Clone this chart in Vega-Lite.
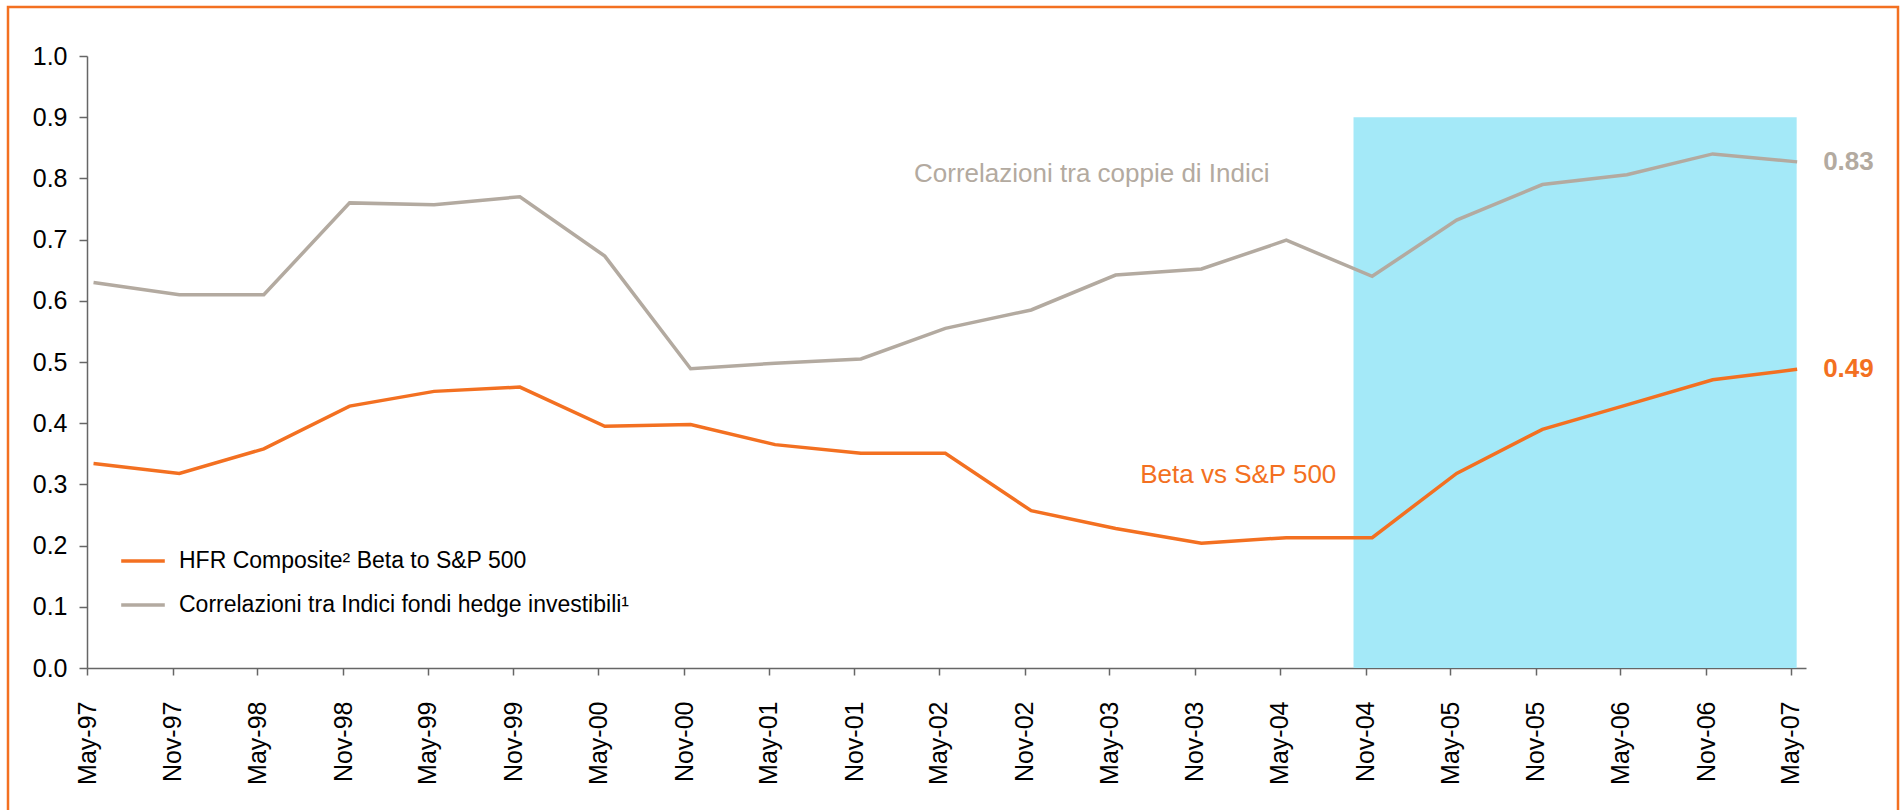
{
  "$schema": "https://vega.github.io/schema/vega-lite/v6.json",
  "width": 1890,
  "height": 808,
  "autosize": {"type": "none"},
  "padding": {"left": 8, "top": 7, "right": 3, "bottom": -5},
  "background": "white",
  "config": {
    "view": {"stroke": "#F37021", "strokeWidth": 2.5},
    "font": "Liberation Sans"
  },
  "datasets": {
    "highlight": [
      {"start": "2004-10-06", "end": "2007-05-14", "low": 0, "high": 0.9}
    ],
    "series": [
      {"date": "1997-05-15", "series": "HFR Composite² Beta to S&P 500", "value": 0.334},
      {"date": "1997-11-15", "series": "HFR Composite² Beta to S&P 500", "value": 0.318},
      {"date": "1998-05-15", "series": "HFR Composite² Beta to S&P 500", "value": 0.358},
      {"date": "1998-11-15", "series": "HFR Composite² Beta to S&P 500", "value": 0.428},
      {"date": "1999-05-15", "series": "HFR Composite² Beta to S&P 500", "value": 0.452},
      {"date": "1999-11-15", "series": "HFR Composite² Beta to S&P 500", "value": 0.459},
      {"date": "2000-05-15", "series": "HFR Composite² Beta to S&P 500", "value": 0.395},
      {"date": "2000-11-15", "series": "HFR Composite² Beta to S&P 500", "value": 0.398},
      {"date": "2001-05-15", "series": "HFR Composite² Beta to S&P 500", "value": 0.365},
      {"date": "2001-11-15", "series": "HFR Composite² Beta to S&P 500", "value": 0.351},
      {"date": "2002-05-15", "series": "HFR Composite² Beta to S&P 500", "value": 0.351},
      {"date": "2002-11-15", "series": "HFR Composite² Beta to S&P 500", "value": 0.257},
      {"date": "2003-05-15", "series": "HFR Composite² Beta to S&P 500", "value": 0.228},
      {"date": "2003-11-15", "series": "HFR Composite² Beta to S&P 500", "value": 0.204},
      {"date": "2004-05-15", "series": "HFR Composite² Beta to S&P 500", "value": 0.213},
      {"date": "2004-11-15", "series": "HFR Composite² Beta to S&P 500", "value": 0.213},
      {"date": "2005-05-15", "series": "HFR Composite² Beta to S&P 500", "value": 0.318},
      {"date": "2005-11-15", "series": "HFR Composite² Beta to S&P 500", "value": 0.39},
      {"date": "2006-05-15", "series": "HFR Composite² Beta to S&P 500", "value": 0.43},
      {"date": "2006-11-15", "series": "HFR Composite² Beta to S&P 500", "value": 0.471},
      {"date": "2007-05-15", "series": "HFR Composite² Beta to S&P 500", "value": 0.488},
      {"date": "1997-05-15", "series": "Correlazioni tra Indici fondi hedge investibili¹", "value": 0.63},
      {"date": "1997-11-15", "series": "Correlazioni tra Indici fondi hedge investibili¹", "value": 0.61},
      {"date": "1998-05-15", "series": "Correlazioni tra Indici fondi hedge investibili¹", "value": 0.61},
      {"date": "1998-11-15", "series": "Correlazioni tra Indici fondi hedge investibili¹", "value": 0.76},
      {"date": "1999-05-15", "series": "Correlazioni tra Indici fondi hedge investibili¹", "value": 0.757},
      {"date": "1999-11-15", "series": "Correlazioni tra Indici fondi hedge investibili¹", "value": 0.77},
      {"date": "2000-05-15", "series": "Correlazioni tra Indici fondi hedge investibili¹", "value": 0.673},
      {"date": "2000-11-15", "series": "Correlazioni tra Indici fondi hedge investibili¹", "value": 0.489},
      {"date": "2001-05-15", "series": "Correlazioni tra Indici fondi hedge investibili¹", "value": 0.498},
      {"date": "2001-11-15", "series": "Correlazioni tra Indici fondi hedge investibili¹", "value": 0.505},
      {"date": "2002-05-15", "series": "Correlazioni tra Indici fondi hedge investibili¹", "value": 0.555},
      {"date": "2002-11-15", "series": "Correlazioni tra Indici fondi hedge investibili¹", "value": 0.585},
      {"date": "2003-05-15", "series": "Correlazioni tra Indici fondi hedge investibili¹", "value": 0.642},
      {"date": "2003-11-15", "series": "Correlazioni tra Indici fondi hedge investibili¹", "value": 0.652},
      {"date": "2004-05-15", "series": "Correlazioni tra Indici fondi hedge investibili¹", "value": 0.699},
      {"date": "2004-11-15", "series": "Correlazioni tra Indici fondi hedge investibili¹", "value": 0.64},
      {"date": "2005-05-15", "series": "Correlazioni tra Indici fondi hedge investibili¹", "value": 0.732},
      {"date": "2005-11-15", "series": "Correlazioni tra Indici fondi hedge investibili¹", "value": 0.79},
      {"date": "2006-05-15", "series": "Correlazioni tra Indici fondi hedge investibili¹", "value": 0.806},
      {"date": "2006-11-15", "series": "Correlazioni tra Indici fondi hedge investibili¹", "value": 0.84},
      {"date": "2007-05-15", "series": "Correlazioni tra Indici fondi hedge investibili¹", "value": 0.827}
    ],
    "notes": [
      {"date": "2003-03-25", "value": 0.794, "series": "Correlazioni tra Indici fondi hedge investibili¹", "label": "Correlazioni tra coppie di Indici"},
      {"date": "2004-02-02", "value": 0.302, "series": "HFR Composite² Beta to S&P 500", "label": "Beta vs S&P 500"}
    ]
  },
  "layer": [
    {
      "data": {"name": "highlight"},
      "mark": {"type": "rect", "color": "#A4E9F8"},
      "encoding": {
        "x": {"field": "start", "type": "temporal", "title": null,
              "scale": {"type": "utc", "domain": [{"year": 1997, "month": 5, "date": 1, "utc": true}, {"year": 2007, "month": 6, "date": 3, "utc": true}], "range": [79, 1798]}},
        "x2": {"field": "end"},
        "y": {"field": "low", "type": "quantitative", "title": null,
              "scale": {"domain": [0, 1], "range": [661, 49], "nice": false, "zero": true}},
        "y2": {"field": "high"}
      }
    },
    {
      "data": {"name": "series"},
      "mark": {"type": "line", "strokeWidth": 3.5},
      "encoding": {
        "x": {"field": "date", "type": "temporal", "title": null,
              "scale": {"type": "utc", "domain": [{"year": 1997, "month": 5, "date": 1, "utc": true}, {"year": 2007, "month": 6, "date": 3, "utc": true}], "range": [79, 1798]},
              "axis": {
                "values": [
                  {"year": 1997, "month": 5, "date": 1, "utc": true},
                  {"year": 1997, "month": 11, "date": 1, "utc": true},
                  {"year": 1998, "month": 5, "date": 1, "utc": true},
                  {"year": 1998, "month": 11, "date": 1, "utc": true},
                  {"year": 1999, "month": 5, "date": 1, "utc": true},
                  {"year": 1999, "month": 11, "date": 1, "utc": true},
                  {"year": 2000, "month": 5, "date": 1, "utc": true},
                  {"year": 2000, "month": 11, "date": 1, "utc": true},
                  {"year": 2001, "month": 5, "date": 1, "utc": true},
                  {"year": 2001, "month": 11, "date": 1, "utc": true},
                  {"year": 2002, "month": 5, "date": 1, "utc": true},
                  {"year": 2002, "month": 11, "date": 1, "utc": true},
                  {"year": 2003, "month": 5, "date": 1, "utc": true},
                  {"year": 2003, "month": 11, "date": 1, "utc": true},
                  {"year": 2004, "month": 5, "date": 1, "utc": true},
                  {"year": 2004, "month": 11, "date": 1, "utc": true},
                  {"year": 2005, "month": 5, "date": 1, "utc": true},
                  {"year": 2005, "month": 11, "date": 1, "utc": true},
                  {"year": 2006, "month": 5, "date": 1, "utc": true},
                  {"year": 2006, "month": 11, "date": 1, "utc": true},
                  {"year": 2007, "month": 5, "date": 1, "utc": true}
                ],
                "format": "%b-%y",
                "labelAngle": -90,
                "labelFontSize": 25,
                "labelColor": "#000000",
                "labelPadding": 26,
                "labelOverlap": false,
                "labelFlush": false,
                "tickSize": 7,
                "tickColor": "#666666",
                "domainColor": "#666666",
                "domainWidth": 1.5,
                "tickWidth": 1.5,
                "grid": false,
                "offset": -147
              }},
        "y": {"field": "value", "type": "quantitative", "title": null,
              "scale": {"domain": [0, 1], "range": [661, 49], "nice": false, "zero": true},
              "axis": {
                "values": [0, 0.1, 0.2, 0.3, 0.4, 0.5, 0.6, 0.7, 0.8, 0.9, 1.0],
                "format": ".1f",
                "labelFontSize": 25,
                "labelColor": "#000000",
                "labelPadding": 12,
                "labelFlush": false,
                "labelOverlap": false,
                "tickSize": 8,
                "tickColor": "#666666",
                "domainColor": "#666666",
                "domainWidth": 1.5,
                "tickWidth": 1.5,
                "grid": false,
                "offset": -79
              }},
        "color": {"field": "series", "type": "nominal",
                  "scale": {"domain": ["HFR Composite² Beta to S&P 500", "Correlazioni tra Indici fondi hedge investibili¹"], "range": ["#F37021", "#B3AAA0"]},
                  "legend": {
                    "orient": "none",
                    "legendX": 111,
                    "legendY": 530,
                    "title": null,
                    "symbolType": "stroke",
                    "symbolStrokeWidth": 3.5,
                    "symbolSize": 1900,
                    "labelFontSize": 23,
                    "labelColor": "#000000",
                    "labelOffset": 12,
                    "rowPadding": 8,
                    "labelLimit": 800
                  }}
      }
    },
    {
      "data": {"name": "series"},
      "transform": [{"filter": "utcyear(datum.date) == 2007"}],
      "mark": {"type": "text", "align": "left", "baseline": "middle", "dx": 26, "fontSize": 26, "fontWeight": "bold"},
      "encoding": {
        "x": {"field": "date", "type": "temporal", "title": null},
        "y": {"field": "value", "type": "quantitative", "title": null},
        "text": {"field": "value", "type": "quantitative", "format": ".2f"},
        "color": {"field": "series", "type": "nominal", "legend": null}
      }
    },
    {
      "data": {"name": "notes"},
      "mark": {"type": "text", "align": "center", "baseline": "alphabetic", "fontSize": 26},
      "encoding": {
        "x": {"field": "date", "type": "temporal", "title": null},
        "y": {"field": "value", "type": "quantitative", "title": null},
        "text": {"field": "label"},
        "color": {"field": "series", "type": "nominal", "legend": null}
      }
    }
  ]
}
